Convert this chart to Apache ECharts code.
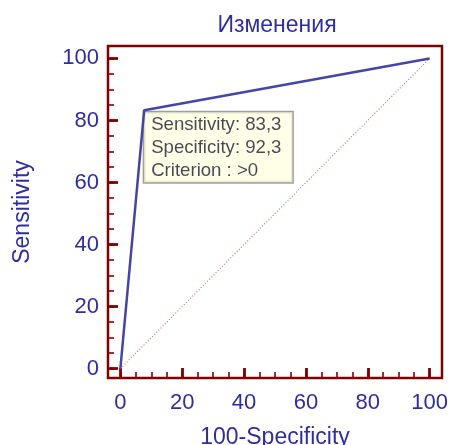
<!DOCTYPE html>
<html><head><meta charset="utf-8">
<script src="https://cdn.jsdelivr.net/npm/echarts@6/dist/echarts.min.js"></script>
<style>html,body{margin:0;padding:0;background:#fff}#c{width:449px;height:445px}</style>
</head><body><div id="c"></div>
<script>
const titleText = 'Изменения';
const xName = '100-Specificity';
const yName = 'Sensitivity';
const majorTicks = [0, 20, 40, 60, 80, 100];
const minorTicks = [0,5,10,15,20,25,30,35,40,45,50,55,60,65,70,75,80,85,90,95,100];
const rocX = [0, 7.7, 100];
const rocY = [0, 83.3, 100];
const diagX = [0, 100];
const diagY = [0, 100];
const criterionPoint = [7.7, 83.3];
const infoLines = ['Sensitivity: 83,3', 'Specificity: 92,3', 'Criterion : >0'];

const FONT = "'Liberation Sans', Arial, sans-serif";
const AXC = '#800000';
const TXT = '#2e2ea0';
const chart = echarts.init(document.getElementById('c'), null, {renderer: 'canvas'});

function mkAxis(extra) {
  return Object.assign({
    type: 'value', min: -4, max: 104,
    axisLine: {show: false, onZero: false},
    splitLine: {show: false}
  }, extra);
}

chart.setOption({
  animation: false,
  graphic: [{
    type: 'text', x: 277, y: 14,
    style: {text: titleText, font: '23px ' + FONT, fill: TXT, textAlign: 'center', textVerticalAlign: 'top'}
  }],
  grid: {left: 108, right: 7, top: 46, bottom: 67, show: true, containLabel: false,
         outerBoundsMode: 'none',
         borderColor: AXC, borderWidth: 2.5, backgroundColor: '#fff'},
  xAxis: [
    mkAxis({
      name: xName, nameLocation: 'middle', nameGap: 48,
      nameTextStyle: {color: TXT, fontSize: 23, fontFamily: FONT},
      axisLabel: {customValues: majorTicks, color: TXT, fontSize: 22, fontFamily: FONT, margin: 14},
      axisTick: {customValues: majorTicks, inside: true, length: 10, lineStyle: {color: AXC, width: 2.8}}
    }),
    mkAxis({
      position: 'bottom',
      axisLabel: {show: false},
      axisTick: {customValues: minorTicks, inside: true, length: 6, lineStyle: {color: AXC, width: 1.6}}
    })
  ],
  yAxis: [
    mkAxis({
      min: -3,
      name: yName, nameLocation: 'middle', nameGap: 74,
      nameTextStyle: {color: TXT, fontSize: 23, fontFamily: FONT},
      axisLabel: {customValues: majorTicks, color: TXT, fontSize: 22, fontFamily: FONT, margin: 9},
      axisTick: {customValues: majorTicks, inside: true, length: 10, lineStyle: {color: AXC, width: 2.8}}
    }),
    mkAxis({
      min: -3, position: 'left',
      axisLabel: {show: false},
      axisTick: {customValues: minorTicks, inside: true, length: 6, lineStyle: {color: AXC, width: 1.6}}
    })
  ],
  series: [
    {
      type: 'line', data: diagX.map((x, i) => [x, diagY[i]]),
      showSymbol: false, symbol: 'none',
      lineStyle: {color: '#c07070', width: 1.1, type: [1, 2]}
    },
    {
      type: 'line', data: rocX.map((x, i) => [x, rocY[i]]),
      showSymbol: false, symbol: 'none',
      lineStyle: {color: '#4545a8', width: 2.5}
    },
    {
      type: 'scatter', data: [criterionPoint], symbolSize: 2,
      itemStyle: {color: 'rgba(0,0,0,0)'},
      label: {
        show: true, position: [1, 3],
        formatter: infoLines.join('\n'),
        color: '#1a1a30', fontSize: 18.6, fontFamily: FONT, lineHeight: 23,
        backgroundColor: '#ffffe1', borderColor: '#888', borderWidth: 1.5,
        padding: [1, 11, 0, 7], align: 'left', verticalAlign: 'top'
      }
    }
  ]
});
</script></body></html>
